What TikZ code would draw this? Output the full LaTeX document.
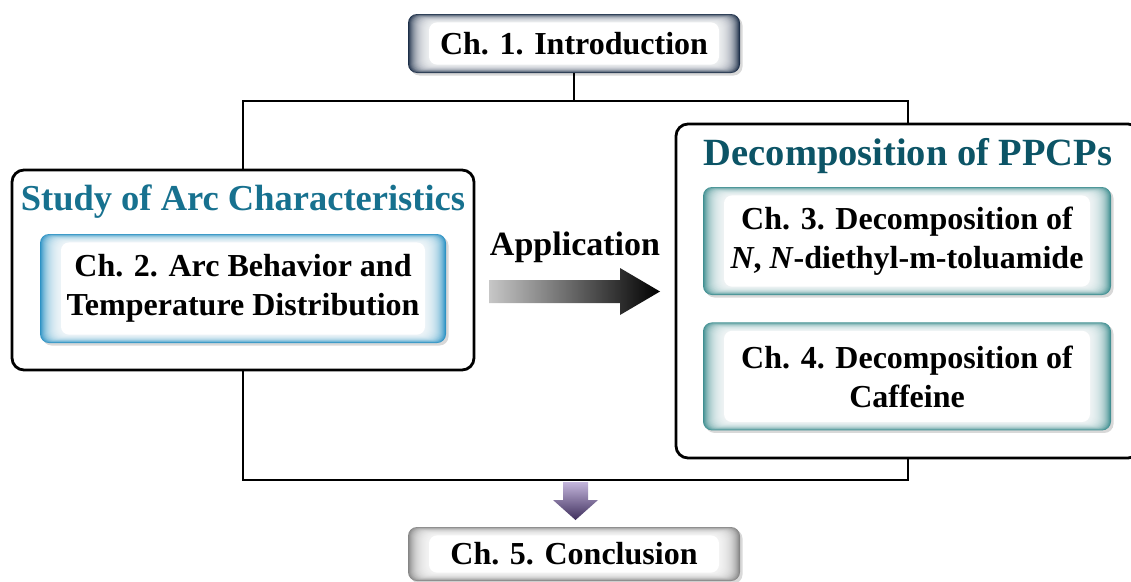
\documentclass[tikz,border=0pt]{standalone}
\usepackage{fontspec}
\setmainfont{Liberation Serif}
\usetikzlibrary{positioning,shadows}
\definecolor{navy}{HTML}{1C2E48}
\definecolor{arcblue}{HTML}{2C92C4}
\definecolor{ppteal}{HTML}{3E8E90}
\definecolor{concgray}{HTML}{858585}
\definecolor{arctitle}{HTML}{17718F}
\definecolor{pptitle}{HTML}{0C5466}
\tikzset{
  chap/.style={rounded corners=9pt, fill=#1, align=center, inner sep=0pt,
    font=\bfseries\fontsize{32}{39}\selectfont,
    drop shadow={shadow xshift=2.5pt, shadow yshift=-2.5pt, opacity=0.3},
    path picture={\foreach \i in {1,...,20}{
      \fill[white, opacity=0.12, rounded corners=8pt]
        ([shift={(\i*1pt,-\i*0.4pt)}]path picture bounding box.north west) rectangle
        ([shift={(-\i*1pt,\i*0.4pt)}]path picture bounding box.south east);}
      \fill[white, rounded corners=8pt]
        ([shift={(21pt,-8.4pt)}]path picture bounding box.north west) rectangle
        ([shift={(-21pt,8.4pt)}]path picture bounding box.south east);}},
  frame/.style={draw, line width=2.8pt, rounded corners=12pt, fill=white},
  heading/.style={font=\bfseries\fontsize{#1}{40}\selectfont},
  link/.style={line width=2.8pt}
}

\begin{document}
\begin{tikzpicture}[x=1pt, y=-1pt]
  \useasboundingbox (0,0) rectangle (1131,581);
  % frames
  \node[frame, minimum width=462pt, minimum height=200pt] (arcframe) at (243,270) {};
  \node[frame, minimum width=464pt, minimum height=334pt] (ppcpframe) at (908,291) {};
  % connectors
  \coordinate (topbar) at (574,101);
  \coordinate (botbar) at (574,480);
  \draw[link] (arcframe.north) |- (topbar) -| (ppcpframe.north);
  \draw[link] (arcframe.south) |- (botbar) -| (ppcpframe.south);
  % chapters
  \node[chap=navy, minimum width=332pt, minimum height=59pt] (ch1) at (574,43.5) {Ch. 1. Introduction};
  \draw[link] (ch1.south) -- (topbar);
  \node[heading=36.5, text=arctitle] (archead) at (243,202) {Study of Arc Characteristics};
  \node[chap=arcblue, minimum width=406pt, minimum height=109pt] (ch2) at (243,288.5)
    {Ch. 2. Arc Behavior and\\Temperature Distribution};
  \node[heading=38.5, text=pptitle] (pphead) at (908,156) {Decomposition of PPCPs};
  \node[chap=ppteal, minimum width=408pt, minimum height=108pt] (ch3) at (907,241)
    {Ch. 3. Decomposition of\\\textit{N}, \textit{N}-diethyl-m-toluamide};
  \node[chap=ppteal, minimum width=408pt, minimum height=108pt, below=27pt of ch3] (ch4)
    {Ch. 4. Decomposition of\\Caffeine};
  \node[chap=concgray, minimum width=332pt, minimum height=54pt] (ch5) at (574,554) {Ch. 5. Conclusion};
  % application arrow
  \node[font=\bfseries\fontsize{34}{40}\selectfont] (app) at (575,247) {Application};
  \shade[left color=black!22, right color=black]
    (489,280) -- (620,280) -- (620,268) -- (660,291.5) -- (620,315) -- (620,303) -- (489,303) -- cycle;
  % conclusion arrow
  \shade[top color={rgb,255:red,196;green,182;blue,220}, bottom color={rgb,255:red,62;green,46;blue,92}]
    (563,482) -- (588,482) -- (588,500) -- (598,500) -- (575.5,520) -- (553,500) -- (563,500) -- cycle;
\end{tikzpicture}
\end{document}
